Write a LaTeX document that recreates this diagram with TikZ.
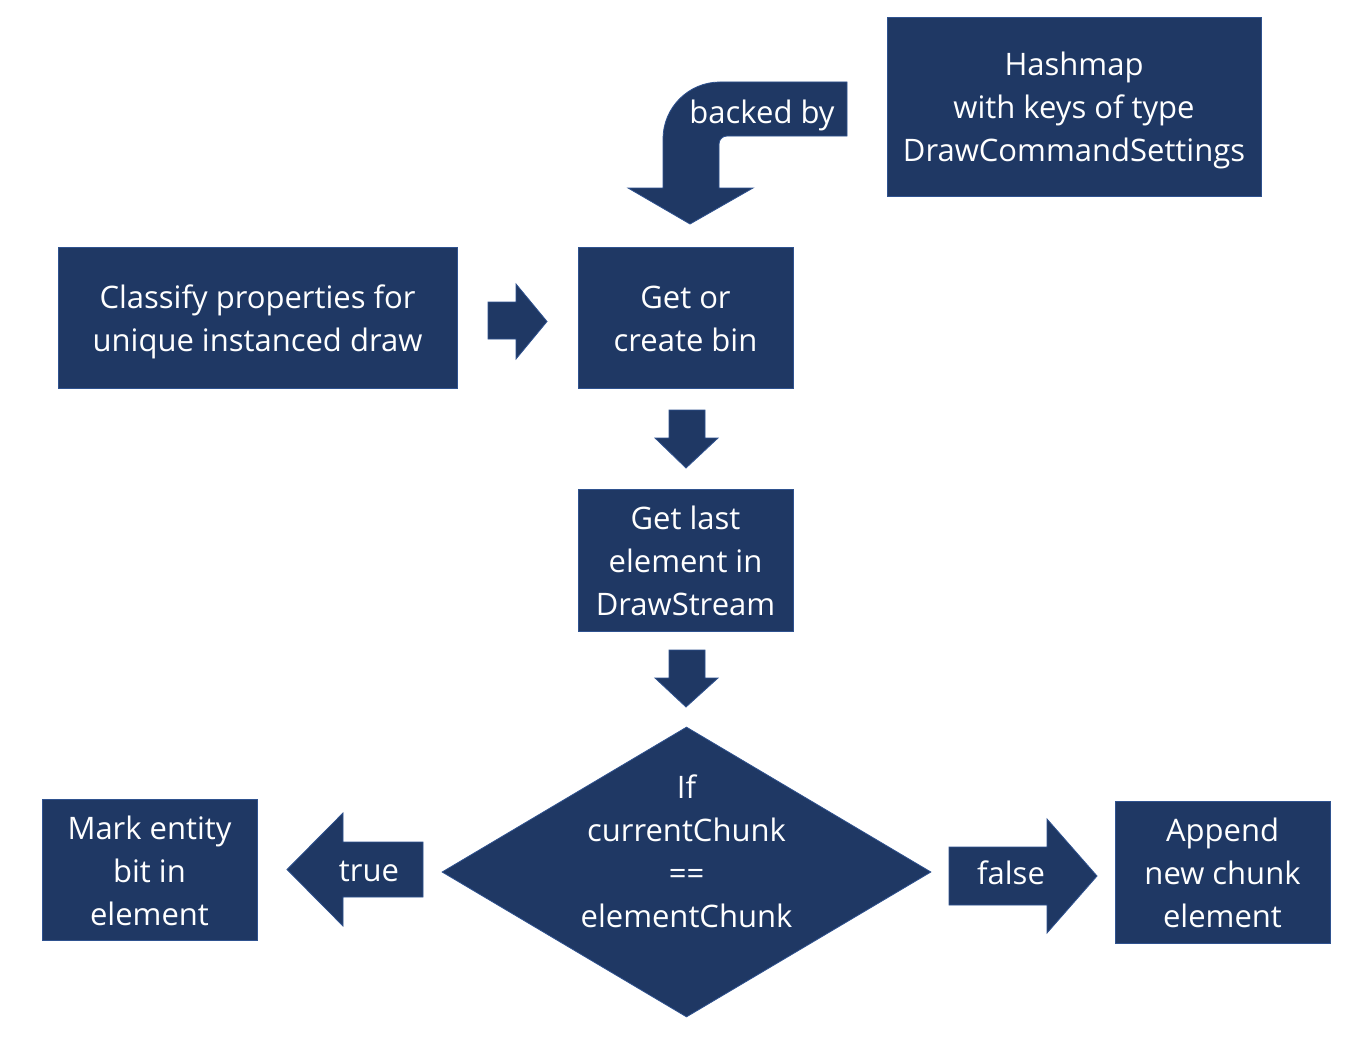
\documentclass[tikz,border=0pt]{standalone}
\usepackage{fontspec}
\setmainfont{Open Sans}
\usetikzlibrary{shapes.geometric}
\definecolor{navy}{RGB}{31,56,100}
\definecolor{navyedge}{RGB}{47,82,143}
\tikzset{
  txt/.style={text=white, align=center, inner sep=0pt, font=\fontsize{31}{43}\selectfont},
  box/.style={rectangle, fill=navy, draw=navyedge, line width=0.8pt, inner sep=0pt},
  blockarrow/.style={fill=navy, draw=navyedge, line width=0.8pt, line join=miter},
}
\begin{document}
\begin{tikzpicture}[x=1pt, y=-1pt]
\useasboundingbox[fill=white] (0,0) rectangle (1348,1038);

% boxes
\node[box, minimum width=374pt, minimum height=179pt] (hash) at (1074,106.5) {};
\node[txt] (hashtext) at (1074,110.5) {Hashmap\\with keys of type\\DrawCommandSettings};
\node[box, minimum width=399pt, minimum height=141pt] (classify) at (257.5,317.5) {};
\node[txt] (classifytext) at (257.5,321.5) {Classify properties for\\unique instanced draw};
\node[box, minimum width=215pt, minimum height=141pt] (getbin) at (685.5,317.5) {};
\node[txt] (getbintext) at (685.5,318.5) {Get or\\create bin};
\node[box, minimum width=215pt, minimum height=142pt] (getlast) at (685.5,560) {};
\node[txt] (getlasttext) at (685.5,561) {Get last\\element in\\DrawStream};
\node[diamond, fill=navy, draw=navyedge, line width=0.8pt, inner sep=0pt, minimum width=489pt, minimum height=290pt] (dec) at (686.5,872) {};
\node[txt] (dectext) at (686.5,851.5) {If\\currentChunk\\==\\elementChunk};
\node[box, minimum width=215pt, minimum height=141pt] (mark) at (149.5,869.5) {};
\node[txt] (marktext) at (149.5,870.5) {Mark entity\\bit in\\element};
\node[box, minimum width=215pt, minimum height=142pt] (append) at (1222.5,872) {};
\node[txt] (appendtext) at (1222.5,873) {Append\\new chunk\\element};

% bent arrow "backed by"
\draw[blockarrow] (847,82) -- (847,136) -- (727,136)
  .. controls (722.6,136) and (719,139.6) .. (719,144)
  -- (719,188) -- (753,188) -- (690,224) -- (628,188) -- (663,188) -- (663,139)
  .. controls (663,107.5) and (688.5,82) .. (720,82) -- cycle;
\node[txt] (backed) at (762,115) {backed by};

% right arrow classify -> getbin
\draw[blockarrow] (488,302) -- (516,302) -- (516,284) -- (547,321.5) -- (516,359) -- (516,339) -- (488,339) -- cycle;

% down arrows
\draw[blockarrow] (669,410) -- (705,410) -- (705,438) -- (718,438) -- (686,468) -- (655,438) -- (669,438) -- cycle;
\draw[blockarrow] (669,650) -- (705,650) -- (705,678) -- (718,678) -- (686,707) -- (655,678) -- (669,678) -- cycle;

% true arrow
\draw[blockarrow] (423,842) -- (343,842) -- (343,813) -- (287,869.5) -- (343,926) -- (343,897) -- (423,897) -- cycle;
\node[txt] (truelbl) at (369,871) {true};

% false arrow
\draw[blockarrow] (949,847) -- (1047,847) -- (1047,819) -- (1097,876) -- (1047,933) -- (1047,905) -- (949,905) -- cycle;
\node[txt] (falselbl) at (1011,873) {false};
\end{tikzpicture}
\end{document}
